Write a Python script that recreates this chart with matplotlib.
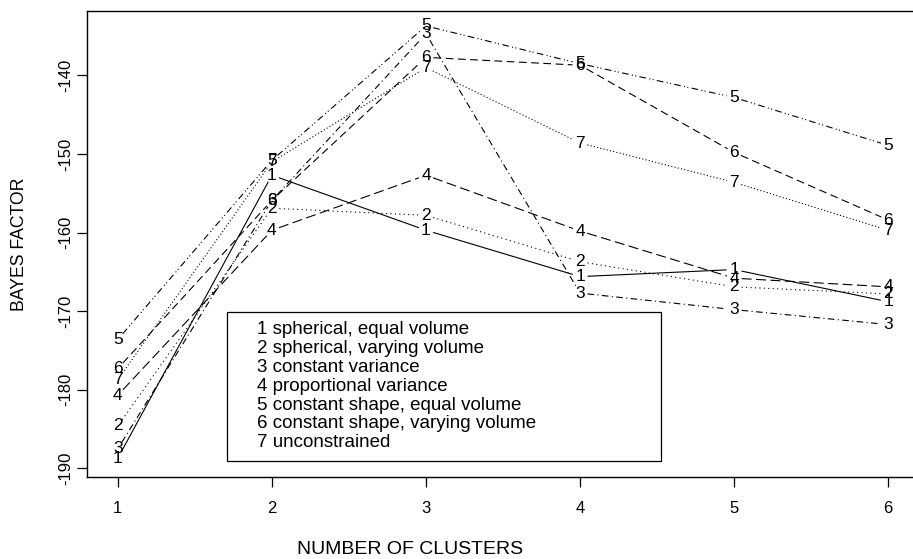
import numpy as np
import matplotlib
matplotlib.use("Agg")
import matplotlib.pyplot as plt
from matplotlib import font_manager
from matplotlib.patches import Rectangle

# Bayes factor by number of clusters for seven covariance models
clusters = [1, 2, 3, 4, 5, 6]
model_names = [
    "spherical, equal volume",
    "spherical, varying volume",
    "constant variance",
    "proportional variance",
    "constant shape, equal volume",
    "constant shape, varying volume",
    "unconstrained",
]
bf_model1 = [-188.7, -152.7, -159.7, -165.6, -164.7, -168.8]
bf_model2 = [-184.6, -156.9, -157.8, -163.7, -166.9, -167.8]
bf_model3 = [-187.5, -155.9, -134.7, -167.7, -169.8, -171.7]
bf_model4 = [-180.7, -159.7, -152.7, -159.8, -165.8, -166.9]
bf_model5 = [-173.6, -150.8, -133.7, -138.5, -142.8, -148.9]
bf_model6 = [-177.3, -155.9, -137.7, -138.7, -149.8, -158.4]
bf_model7 = [-178.7, -151.0, -139.0, -148.6, -153.6, -159.7]
series = [bf_model1, bf_model2, bf_model3, bf_model4, bf_model5, bf_model6, bf_model7]
y_ticks = [-140, -150, -160, -170, -180, -190]

available = {f.name for f in font_manager.fontManager.ttflist}
family = "Liberation Sans Narrow" if "Liberation Sans Narrow" in available else "Liberation Sans"
plt.rcParams["font.family"] = [family, "DejaVu Sans"]

line_styles = [
    "-",
    (0, (1, 3)),
    (0, (6, 3, 1, 3)),
    (0, (9, 4)),
    (0, (6, 3, 1, 2, 1, 3)),
    (0, (7, 4)),
    (0, (1, 2)),
]

W, H = 913, 559
fig = plt.figure(figsize=(W / 100, H / 100), dpi=100)
ax_l, ax_r, ax_t, ax_b = 87, 919, 11, 477
ax = fig.add_axes([ax_l / W, 1 - ax_b / H, (ax_r - ax_l) / W, (ax_b - ax_t) / H])
ax.set_xlim(0.8, 6.2)
ax.set_ylim(-191.1, -131.8)

fig.canvas.draw()
gap = 7.5  # pixels of clearance around each plotted digit
for k, (vals, ls) in enumerate(zip(series, line_styles)):
    pts = ax.transData.transform(np.column_stack([clusters, vals]))
    for i in range(len(pts) - 1):
        p0, p1 = pts[i], pts[i + 1]
        d = p1 - p0
        u = d / np.hypot(*d)
        q = np.array([p0 + u * gap, p1 - u * gap])
        seg = ax.transData.inverted().transform(q)
        ax.plot(seg[:, 0], seg[:, 1], color="black", lw=0.8, linestyle=ls,
                dash_capstyle="butt", solid_capstyle="butt")
    for x, v in zip(clusters, vals):
        ax.text(x, v, str(k + 1), ha="center", va="center", fontsize=12.5, color="black")

for s in ax.spines.values():
    s.set_linewidth(1.0)
ax.set_xticks(clusters)
ax.set_yticks(y_ticks)
ax.set_yticklabels([str(t) for t in y_ticks], rotation=90, va="center")
ax.tick_params(axis="both", direction="out", length=7, width=0.9, labelsize=12, color="black")
ax.tick_params(axis="x", pad=10)
ax.tick_params(axis="y", pad=3)

# model key
bx0 = (227 - ax_l) / (ax_r - ax_l)
bx1 = (661 - ax_l) / (ax_r - ax_l)
by0 = (ax_b - 461) / (ax_b - ax_t)
by1 = (ax_b - 312) / (ax_b - ax_t)
ax.add_patch(Rectangle((bx0, by0), bx1 - bx0, by1 - by0, transform=ax.transAxes,
                       fill=False, edgecolor="black", lw=0.9))
tx = (257 - ax_l) / (ax_r - ax_l)
for i, name in enumerate(model_names):
    ty = (ax_b - (330 + i * 18.8)) / (ax_b - ax_t)
    ax.text(tx, ty, f"{i + 1} {name}", transform=ax.transAxes, ha="left", va="center",
            fontsize=13.5, color="black")

fig.text(410 / W, 1 - 549 / H, "NUMBER OF CLUSTERS", ha="center", va="center", fontsize=14)
fig.text(19 / W, 1 - 244 / H, "BAYES FACTOR", ha="center", va="center", rotation=90, fontsize=12.7)

fig.savefig("out.png", dpi=100)
